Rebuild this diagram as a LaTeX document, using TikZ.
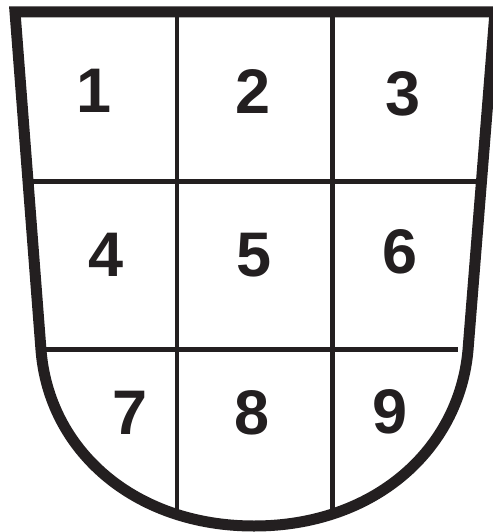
\documentclass[tikz,border=0pt]{standalone}
\usepackage{fontspec}
\setmainfont{Liberation Sans}
\definecolor{ink}{HTML}{231F20}
\tikzset{
  outline/.style={draw=ink, line width=11pt, line join=miter},
  grid/.style={draw=ink, line width=4.6pt},
  num/.style={inner sep=0pt, outer sep=0pt, text=ink, font=\fontsize{63}{63}\selectfont\bfseries}
}
\begin{document}
\begin{tikzpicture}[x=1pt, y=-1pt]
\useasboundingbox (0,0) rectangle (492,532);
\def\shield{(15,12) -- (495,12) -- (468,350) .. controls (459.2,450) and (374,526) .. (254,526) .. controls (134,526) and (48.8,450) .. (41,350) -- cycle}
\begin{scope}
  \clip \shield;
  \draw[grid] (177,0) -- (177,540);
  \draw[grid] (332.5,0) -- (332.5,540);
  \draw[grid] (0,181.5) -- (500,181.5);
  \draw[grid] (20,349.5) -- (458,349.5);
\end{scope}
\draw[outline] \shield;
\node[num] (n1) at (94,91) {1};
\node[num] (n2) at (253,92) {2};
\node[num] (n3) at (403.5,93.5) {3};
\node[num] (n4) at (106,255) {4};
\node[num] (n5) at (254,255) {5};
\node[num] (n6) at (400,252) {6};
\node[num] (n7) at (130,412.5) {7};
\node[num] (n8) at (252.5,413) {8};
\node[num] (n9) at (390.5,411.5) {9};
\end{tikzpicture}
\end{document}
